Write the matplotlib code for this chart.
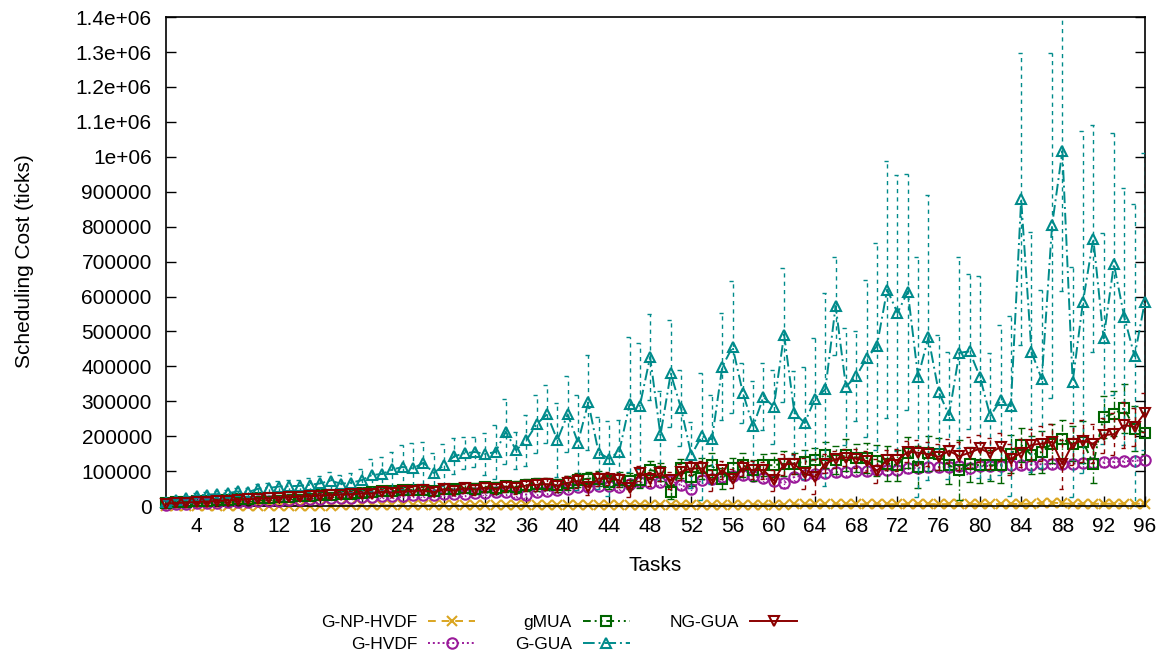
import numpy as np
import matplotlib
matplotlib.use("Agg")
import matplotlib.pyplot as plt
from matplotlib.ticker import FuncFormatter, MultipleLocator

plt.rcParams['font.family'] = ['Liberation Sans', 'DejaVu Sans']

tasks = list(range(1, 97))

labels = ['G-NP-HVDF', 'G-HVDF', 'gMUA', 'G-GUA', 'NG-GUA']

np_hvdf = [500, 600, 700, 800, 900, 1000, 1000, 1100, 1200, 1200, 1300, 1400, 1400, 1500, 1600, 1600, 1700, 1800, 1800, 1900,
           2000, 2000, 2100, 2200, 2200, 2300, 2400, 2400, 2500, 2600, 2600, 2700, 2800, 2800, 2900, 3000, 3000, 3100, 3200, 3200,
           3300, 3400, 3400, 3500, 3600, 3600, 3700, 3800, 3800, 3900, 4000, 4000, 4100, 4200, 4200, 4300, 4400, 4400, 4500, 4600,
           4600, 4700, 4800, 4800, 4900, 5000, 5000, 5100, 5200, 5200, 5300, 5400, 5400, 5500, 5600, 5600, 5700, 5800, 5800,
           5900, 6000, 6000, 6100, 6200, 7000, 9000, 10000, 8000, 6500, 6600, 6600, 6700, 6800, 6800, 6900, 7000]
np_hvdf_err = [300] * 20 + [500] * 20 + [700] * 20 + [900] * 19 + [1000, 1000, 1000, 1000, 1200, 2000, 3000, 3500, 2500,
                                                                    1500, 1200, 1200, 1200, 1200, 1200, 1200, 1200]

hvdf = [4000, 5000, 6000, 8000, 9000, 10000, 11000, 12000, 13000, 14000, 15000, 16000, 17000, 18000, 19000, 20000, 22000, 23000, 24000, 25000,
        27000, 28000, 29000, 30000, 31000, 32000, 33000, 34000, 35000, 36000, 37000, 38000, 39000, 40000, 36000, 33000, 40000, 43000, 46000, 48000,
        55000, 55000, 57000, 58000, 56000, 62000, 68000, 65000, 70000, 72000, 60000, 48000, 75000, 78000, 82000, 85000, 88000, 86000, 80000, 72000,
        66000, 84000, 88000, 92000, 94000, 97000, 98000, 100000, 101000, 103000, 102000, 104000, 108000, 110000, 111000, 112000, 112000, 114000, 108000,
        114000, 115000, 116000, 117000, 118000, 119000, 120000, 120000, 121000, 122000, 123000, 124000, 125000, 127000, 128000, 130000, 132000]
hvdf_err = [1000, 1000, 1000, 1500, 1500, 1500, 2000, 2000, 2000, 2500, 2500, 2500, 3000, 3000, 3000, 3500, 3500, 3500, 4000, 4000,
            4000, 4500, 4500, 5000, 5000, 5000, 5500, 5500, 6000, 6000, 6000, 6500, 6500, 7000, 9000, 9000, 7000, 7500, 7500, 8000,
            8000, 8000, 8500, 8500, 9000, 9000, 9500, 9500, 10000, 10000, 12000, 12000, 10000, 10000, 10000, 11000, 11000, 11000, 12000, 12000,
            15000, 12000, 12000, 12000, 11000, 11000, 11000, 11000, 11000, 11000, 12000, 12000, 12000, 12000, 12000, 12000, 12000, 12000, 15000,
            12000, 12000, 12000, 12000, 12000, 12000, 12000, 12000, 12000, 12000, 12000, 12000, 12000, 12000, 12000, 12000, 12000]

gmua = [9000, 11000, 12000, 14000, 15000, 17000, 18000, 20000, 21000, 23000, 24000, 26000, 27000, 29000, 30000, 32000, 33000, 35000, 36000, 38000,
        40000, 42000, 43000, 45000, 46000, 47000, 44000, 50000, 48000, 53000, 50000, 55000, 52000, 57000, 55000, 60000, 62000, 63000, 60000, 66000,
        74000, 79000, 79000, 70000, 76000, 72000, 74000, 103000, 98000, 41000, 108000, 84000, 108000, 117000, 79000, 108000, 117000, 103000, 117000, 117000,
        122000, 122000, 127000, 132000, 146000, 132000, 146000, 139000, 138000, 130000, 122000, 117000, 153000, 112000, 151000, 149000, 117000, 103000, 120000,
        117000, 117000, 117000, 150000, 175000, 146000, 155000, 179000, 191000, 179000, 184000, 122000, 256000, 265000, 280000, 222000, 210000]
gmua_err = [3000, 3000, 3000, 4000, 4000, 4000, 5000, 5000, 5000, 6000, 6000, 6000, 7000, 7000, 7000, 8000, 8000, 8000, 9000, 9000,
            10000, 10000, 11000, 11000, 12000, 12000, 13000, 13000, 14000, 14000, 15000, 15000, 16000, 16000, 17000, 17000, 18000, 18000, 19000, 19000,
            20000, 20000, 22000, 20000, 22000, 24000, 22000, 25000, 25000, 20000, 28000, 25000, 30000, 35000, 30000, 30000, 35000, 30000, 32000, 35000,
            35000, 30000, 35000, 35000, 38000, 40000, 45000, 40000, 42000, 45000, 50000, 45000, 45000, 61000, 50000, 45000, 55000, 85000, 50000,
            50000, 45000, 50000, 55000, 50000, 55000, 60000, 55000, 55000, 50000, 60000, 55000, 60000, 65000, 70000, 65000, 60000]

ggua = [12000, 17000, 23000, 30000, 33000, 34000, 37000, 42000, 40000, 50000, 52000, 56000, 57000, 58000, 61000, 65000, 73000, 64000, 67000, 74000,
        89000, 92000, 105000, 112000, 108000, 124000, 95000, 117000, 143000, 151000, 155000, 149000, 155000, 213000, 160000, 189000, 235000, 263000, 189000, 263000,
        182000, 297000, 153000, 136000, 156000, 291000, 287000, 427000, 203000, 380000, 280000, 146000, 200000, 191000, 399000, 456000, 324000, 229000, 313000, 284000,
        491000, 267000, 238000, 308000, 334000, 573000, 342000, 372000, 423000, 458000, 620000, 553000, 614000, 370000, 483000, 327000, 260000, 439000, 443000,
        370000, 258000, 303000, 286000, 878000, 442000, 363000, 804000, 1017000, 356000, 585000, 766000, 480000, 693000, 542000, 429000, 585000]
ggua_err = [4000, 5000, 6000, 7000, 8000, 9000, 10000, 11000, 12000, 13000, 14000, 15000, 17000, 18000, 20000, 22000, 24000, 26000, 28000, 32000,
            47000, 49000, 50000, 63000, 73000, 60000, 58000, 60000, 51000, 46000, 42000, 61000, 77000, 93000, 53000, 73000, 83000, 83000, 107000, 109000,
            137000, 135000, 103000, 108000, 90000, 194000, 181000, 123000, 127000, 153000, 109000, 95000, 182000, 127000, 153000, 189000, 86000, 130000, 96000, 107000,
            192000, 120000, 161000, 172000, 275000, 141000, 167000, 129000, 224000, 296000, 368000, 395000, 338000, 344000, 407000, 163000, 182000, 273000, 222000,
            290000, 180000, 215000, 258000, 418000, 343000, 255000, 494000, 400000, 330000, 489000, 325000, 301000, 374000, 368000, 436000, 425000]

nggua = [7000, 9000, 10000, 12000, 13000, 15000, 16000, 18000, 19000, 21000, 22000, 24000, 25000, 27000, 28000, 30000, 31000, 33000, 34000, 36000,
         36000, 41000, 38000, 42000, 43000, 45000, 40000, 48000, 44000, 51000, 47000, 53000, 49000, 56000, 52000, 59000, 61000, 63000, 58000, 67000,
         72000, 55000, 79000, 79000, 74000, 51000, 94000, 79000, 94000, 74000, 98000, 108000, 108000, 74000, 103000, 79000, 108000, 103000, 103000, 74000,
         120000, 120000, 94000, 84000, 122000, 134000, 139000, 136000, 129000, 101000, 132000, 132000, 155000, 153000, 149000, 141000, 158000, 143000, 153000,
         165000, 151000, 170000, 134000, 153000, 175000, 179000, 184000, 120000, 179000, 187000, 179000, 203000, 206000, 232000, 227000, 267000]
nggua_err = [2000, 2000, 3000, 3000, 3000, 4000, 4000, 4000, 5000, 5000, 5000, 6000, 6000, 6000, 7000, 7000, 7000, 8000, 8000, 8000,
             9000, 9000, 10000, 10000, 11000, 11000, 12000, 12000, 13000, 13000, 14000, 14000, 15000, 15000, 16000, 16000, 17000, 17000, 18000, 18000,
             20000, 22000, 20000, 18000, 20000, 25000, 22000, 20000, 22000, 25000, 22000, 20000, 22000, 30000, 25000, 28000, 22000, 25000, 24000, 30000,
             30000, 28000, 45000, 50000, 28000, 25000, 25000, 28000, 30000, 35000, 30000, 32000, 30000, 35000, 35000, 38000, 35000, 40000, 45000,
             40000, 45000, 40000, 45000, 40000, 45000, 50000, 50000, 70000, 60000, 60000, 55000, 50000, 60000, 65000, 55000, 56000]

series = [np_hvdf, hvdf, gmua, ggua, nggua]
errors = [np_hvdf_err, hvdf_err, gmua_err, ggua_err, nggua_err]
colors = ['#daa520', '#9a1a9a', '#006400', '#008b8b', '#8b0000']
markers = ['x', 'o', 's', '^', 'v']
dashes = [(4, 3), (1, 1.5), (4, 2, 1, 2, 1, 2), (6, 2, 1, 2), None]
bar_dashes = [(3, 3), (1, 1.5), (5, 2, 1, 2), (3, 3), (3, 3)]

fig = plt.figure(figsize=(11.67, 6.59), dpi=100)
ax = fig.add_axes([0.142, 0.232, 0.839, 0.742])

x = np.array(tasks)
for i, (y, e) in enumerate(zip(series, errors)):
    y = np.array(y)
    e = np.array(e)
    z = 2 + i
    eb = ax.errorbar(x, y, yerr=e, fmt='none', ecolor=colors[i], elinewidth=1.0, capsize=0, zorder=z)
    eb[2][0].set_linestyle((0, bar_dashes[i]))
    ax.hlines(y + e, x - 0.35, x + 0.35, colors=colors[i], linewidth=1.0, linestyles=[(0, bar_dashes[i])], zorder=z)
    ax.hlines(y - e, x - 0.35, x + 0.35, colors=colors[i], linewidth=1.0, linestyles=[(0, bar_dashes[i])], zorder=z)
    line, = ax.plot(x, y, color=colors[i], linewidth=1.4, marker=markers[i], markersize=7.5,
                    markerfacecolor='none', markeredgewidth=1.5, label=labels[i], zorder=z + 0.5,
                    clip_on=False)
    if dashes[i] is not None:
        line.set_dashes(dashes[i])

ax.set_xlim(1, 96)
ax.set_ylim(0, 1400000)
ax.xaxis.set_major_locator(MultipleLocator(4))
ax.yaxis.set_major_locator(MultipleLocator(100000))
ax.yaxis.set_major_formatter(FuncFormatter(lambda v, p: '%g' % v))
ax.tick_params(axis='both', direction='in', length=7, width=1, labelsize=15)
ax.tick_params(axis='y', right=True, pad=10)
ax.tick_params(axis='x', pad=8)
for s in ax.spines.values():
    s.set_linewidth(1.2)

ax.set_xlabel('Tasks', fontsize=15, labelpad=14)
ax.set_ylabel('Scheduling Cost (ticks)', fontsize=15, labelpad=30)

fig.legend(loc='center', bbox_to_anchor=(0.479, 0.039), ncol=3, frameon=False,
           markerfirst=False, fontsize=12.5, handlelength=2.7, handletextpad=0.63,
           columnspacing=2.3, labelspacing=0.37)

fig.savefig('out.png', dpi=100)
